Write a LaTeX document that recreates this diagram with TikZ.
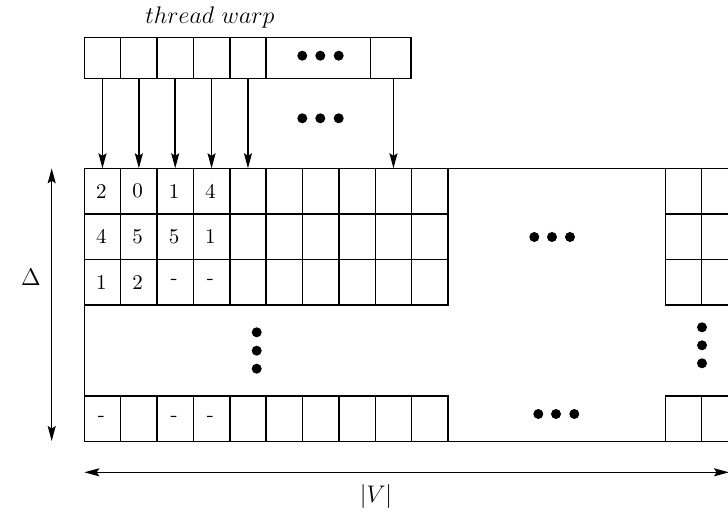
\documentclass[tikz,border=0pt]{standalone}
\usetikzlibrary{arrows.meta}
\begin{document}
\begin{tikzpicture}[x=0.5pt,y=-0.5pt,line width=0.75pt,
  every node/.style={inner sep=0pt,outer sep=0pt},
  entry/.style={font=\fontsize{10.5}{12}\selectfont},
  label/.style={font=\fontsize{11.5}{13}\selectfont},
  cell/.style={draw,anchor=north west,minimum width=18.185pt,minimum height=22.78pt},
  warpcell/.style={draw,anchor=north west,minimum width=18.185pt,minimum height=20.5pt},
  tip/.style={-{Stealth[length=7.5pt,width=4pt,inset=1.3pt]}},
  dtip/.style={{Stealth[length=7.5pt,width=4pt,inset=1.3pt]}-{Stealth[length=7.5pt,width=4pt,inset=1.3pt]}},
  dot/.style={fill=black}]
\useasboundingbox (0,0) rectangle (728,517);
\clip (0,0) rectangle (728,517);

% thread warp row
\node[label] (tw) at (210,18) {$thread\ warp$};
\foreach \i in {1,...,5}
  \node[warpcell] (w\i) at ({84.3+(\i-1)*36.37},37.3) {};
\node[warpcell,minimum width=52pt] (wd) at (266.7,37.3) {};
\node[warpcell,minimum width=20.15pt] (w6) at (370.7,37.3) {};
\foreach \xx in {302.3,320.3,338.7} {
  \fill[dot] (\xx,55.7) circle (2.5pt);
  \fill[dot] (\xx,118.3) circle (2.5pt);
}

% adjacency table: first three rows and the last row
\foreach \k in {1,...,10} {
  \foreach \r in {1,2,3}
    \node[cell] (c-\r-\k) at ({84.3+(\k-1)*36.37},{168.3+(\r-1)*45.57}) {};
  \node[cell] (c-4-\k) at ({84.3+(\k-1)*36.37},396) {};
}
% right-hand columns
\foreach \k in {1,2} {
  \foreach \r in {1,2,3}
    \node[cell] (d-\r-\k) at ({665.3+(\k-1)*36.37},{168.3+(\r-1)*45.57}) {};
  \node[cell] (d-4-\k) at ({665.3+(\k-1)*36.37},396) {};
}

% entries
\foreach \r/\a/\b/\c/\d in {1/2/0/1/4, 2/4/5/5/1, 3/1/2/-/-, 4/-//-/-} {
  \node[entry] at ([xshift=-0.6pt]c-\r-1) {\a};
  \node[entry] at ([xshift=-0.6pt]c-\r-2) {\b};
  \node[entry] at ([xshift=-0.6pt]c-\r-3) {\c};
  \node[entry] at ([xshift=-0.6pt]c-\r-4) {\d};
}

% outer frame
\draw (c-1-10.north east) -- (d-1-1.north west);
\draw (c-4-10.south east) -- (d-4-1.south west);
\draw (c-3-1.south west) -- (c-4-1.north west);

% ellipses inside the table
\foreach \xx in {534.3,552,570} \fill[dot] (\xx,237) circle (2.5pt);
\foreach \xx in {538.3,556,574.3} \fill[dot] (\xx,414) circle (2.5pt);
\foreach \yy in {332.3,350.7,368.7} \fill[dot] (256.7,\yy) circle (2.5pt);
\foreach \yy in {327.3,345.3,363.3} \fill[dot] (702,\yy) circle (2.5pt);

% threads to columns
\foreach \i in {1,...,5}
  \draw[tip] (w\i.south) -- (c-1-\i.north);
\draw[tip] (c-1-9.north |- w6.south) -- (c-1-9.north);

% dimensions
\coordinate (vt) at (51.7,168.3);
\coordinate (vb) at (51.7,441);
\draw[dtip] (vt) -- (vb);
\node[label] (delta) at (31,277) {$\Delta$};
\coordinate (hl) at (84.3,472.3);
\coordinate (hr) at (729,472.3);
\draw[dtip] (hl) -- (hr);
\node[label] (nv) at (376,497) {$|V|$};
\end{tikzpicture}
\end{document}
